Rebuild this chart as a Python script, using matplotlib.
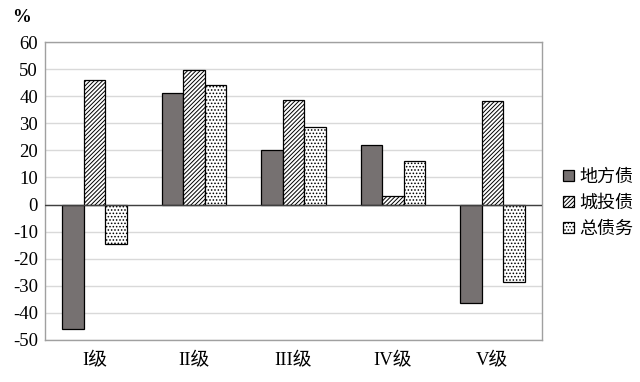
import matplotlib
matplotlib.use("Agg")
import matplotlib.pyplot as plt
import numpy as np

categories = ["I级", "II级", "III级", "IV级", "V级"]
series_names = ["地方债", "城投债", "总债务"]
local_debt = [-46.0, 41.2, 20.0, 22.0, -36.3]
lgfv_debt = [45.9, 49.6, 38.5, 3.1, 38.3]
total_debt = [-14.4, 44.3, 28.6, 15.9, -28.5]
yticks = [60, 50, 40, 30, 20, 10, 0, -10, -20, -30, -40, -50]

plt.rcParams['hatch.linewidth'] = 0.7
serif = ['Liberation Serif', 'Noto Sans CJK SC']
sans = ['Noto Sans CJK SC', 'DejaVu Sans']

fig = plt.figure(figsize=(6.4, 3.82), dpi=100)
ax = fig.add_axes([45/640, 1-340/382, 497/640, 298/382])

x = np.arange(len(categories))
w = 0.217
ax.bar(x - w, local_debt, w, color='#767171', edgecolor='black', linewidth=0.9, label=series_names[0], zorder=3)
ax.bar(x, lgfv_debt, w, color='white', edgecolor='black', hatch='////////', linewidth=0.9, label=series_names[1], zorder=3)
ax.bar(x + w, total_debt, w, color='white', edgecolor='black', hatch='.....', linewidth=0.9, label=series_names[2], zorder=3)

ax.set_xlim(-0.5, len(categories) - 0.5)
ax.set_ylim(-50, 60)
ax.set_yticks(yticks)
ax.set_yticklabels([str(v) for v in yticks], fontfamily='Liberation Serif', fontsize=13.5)
ax.set_xticks(x)
ax.set_xticklabels(categories, fontfamily=serif, fontsize=13.5)
ax.tick_params(length=0, pad=5)
ax.tick_params(axis='x', pad=9)
ax.grid(axis='y', color='#d9d9d9', linewidth=1.0, zorder=0)
ax.axhline(0, color='#404040', linewidth=1.0, zorder=4)
for s in ax.spines.values():
    s.set_color('#a0a0a0')
    s.set_linewidth(1.0)

fig.text(12/640, 1-18/382, '%', fontfamily='Liberation Serif', fontsize=13.5, fontweight='bold', va='center', ha='left')

ax.legend(loc='center left', bbox_to_anchor=(1.01, 0.46), frameon=False,
          prop={'family': sans, 'size': 13}, handlelength=0.6, handleheight=0.6,
          handletextpad=0.3, labelspacing=0.45)

fig.savefig('out.png', dpi=100)
